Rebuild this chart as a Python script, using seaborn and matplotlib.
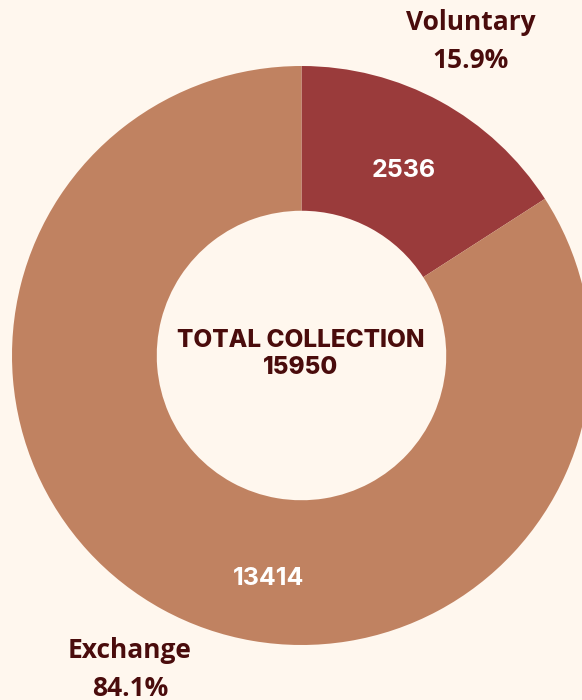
import numpy as np
import matplotlib.pyplot as plt
import seaborn as sns

# collection data
categories = ["Voluntary", "Exchange"]
values = [2536, 13414]
colors = ["#9A3B3B", "#C08261"]

bg = "#FFF7EE"
dark = "#4A0C0C"

sns.set_style("white")
plt.rcParams["font.family"] = ["Open Sans", "DejaVu Sans"]

total = sum(values)
pcts = [v / total * 100 for v in values]

fig = plt.figure(figsize=(5.82, 7), dpi=100, facecolor=bg)
ax = fig.add_axes([12 / 582, 55 / 700, 579 / 582, 579 / 700])
ax.set_facecolor(bg)

wedges, _ = ax.pie(values, colors=colors, startangle=90, counterclock=False,
                   radius=1, wedgeprops=dict(width=0.5, edgecolor="none"))
ax.set_xlim(-1, 1)
ax.set_ylim(-1, 1)
ax.set_aspect("equal")
ax.axis("off")

num_font = dict(color="white", fontsize=18, fontweight="bold", family=["Inter", "DejaVu Sans"],
                ha="center", va="center")

# value labels inside the ring
w = wedges[0]
mid = np.deg2rad((w.theta1 + w.theta2) / 2)
ax.text(0.74 * np.cos(mid), 0.74 * np.sin(mid) - 0.01, str(values[0]), **num_font)
ax.text(-0.115, -0.77, str(values[1]), **num_font)


def px(x, y):
    return x / 582, 1 - y / 700


# centre text
ctr = dict(ha="center", va="center", color=dark, fontsize=17.5, fontweight="heavy",
           family=["Inter", "DejaVu Sans"])
fig.text(*px(301, 340), "TOTAL COLLECTION", **ctr)
fig.text(*px(301, 368), str(total), **ctr)

# category labels
lab = dict(ha="center", va="center", color=dark, fontsize=19, fontweight="bold")
fig.text(*px(471, 22), categories[0], **lab)
fig.text(*px(471, 60), f"{pcts[0]:.1f}%", **lab)
fig.text(*px(130, 651), categories[1], **lab)
fig.text(*px(130, 688), f"{pcts[1]:.1f}%", **lab)

fig.savefig("out.png", dpi=100, facecolor=bg)
